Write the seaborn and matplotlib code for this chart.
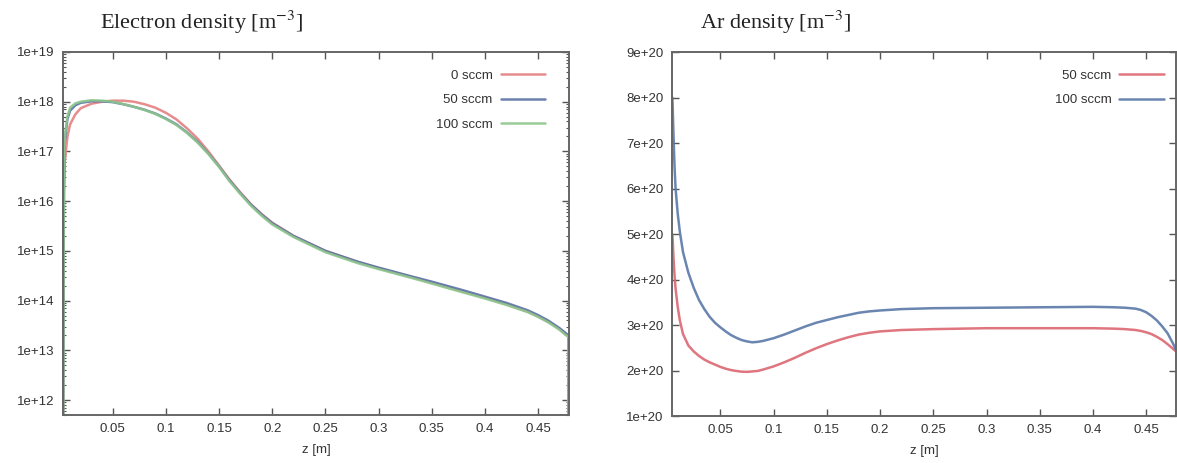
import numpy as np
import pandas as pd
import matplotlib
matplotlib.use('Agg')
import matplotlib.pyplot as plt
import seaborn as sns
from matplotlib.ticker import LogLocator, NullFormatter

# ---- electron density data (left panel) ----
z_e = [0.0035, 0.004, 0.005, 0.0075, 0.01, 0.015, 0.02, 0.03, 0.04, 0.05, 0.06, 0.07,
       0.08, 0.09, 0.1, 0.11, 0.12, 0.13, 0.14, 0.15, 0.16, 0.17, 0.18, 0.19, 0.2,
       0.22, 0.25, 0.28, 0.3, 0.33, 0.35, 0.38, 0.4, 0.42, 0.44, 0.45, 0.46, 0.47,
       0.475, 0.4785, 0.4786]
ne_0 = [5e11, 3.2e15, 6.3e16, 2.0e17, 3.5e17, 5.6e17, 7.4e17, 9.1e17, 1.0e18, 1.05e18, 1.05e18, 1.0e18,
        8.9e17, 7.6e17, 6.0e17, 4.4e17, 2.9e17, 1.8e17, 1.0e17, 5.2e16, 2.7e16, 1.5e16, 8.7e15, 5.5e15, 3.7e15,
        2.0e15, 1.0e15, 6.0e14, 4.5e14, 3.0e14, 2.3e14, 1.5e14, 1.15e14, 8.5e13, 6.0e13, 4.8e13, 3.7e13, 2.7e13,
        2.2e13, 1.9e13, 5e11]
ne_50 = [5e11, 1.6e16, 1.6e17, 4.5e17, 6.6e17, 8.5e17, 9.5e17, 1.02e18, 1.02e18, 9.8e17, 8.9e17, 7.9e17,
         6.9e17, 5.8e17, 4.6e17, 3.5e17, 2.4e17, 1.55e17, 9.1e16, 5.0e16, 2.6e16, 1.45e16, 8.5e15, 5.4e15, 3.6e15,
         2.0e15, 1.0e15, 6.1e14, 4.6e14, 3.1e14, 2.4e14, 1.6e14, 1.2e14, 9.0e13, 6.4e13, 5.1e13, 3.9e13, 2.8e13,
         2.3e13, 2.0e13, 5e11]
ne_100 = [5e11, 2.0e16, 2.0e17, 5.0e17, 7.6e17, 9.3e17, 1.0e18, 1.07e18, 1.05e18, 1.0e18, 9.0e17, 7.9e17,
          6.8e17, 5.7e17, 4.5e17, 3.4e17, 2.35e17, 1.5e17, 8.9e16, 4.9e16, 2.5e16, 1.4e16, 8.1e15, 5.1e15, 3.4e15,
          1.9e15, 9.4e14, 5.7e14, 4.3e14, 2.9e14, 2.2e14, 1.45e14, 1.1e14, 8.2e13, 5.9e13, 4.7e13, 3.6e13, 2.6e13,
          2.1e13, 1.85e13, 5e11]

# ---- Ar density data (right panel), units of 1e20 m^-3 ----
z_ar = [0.005, 0.006, 0.007, 0.008, 0.01, 0.012, 0.015, 0.02, 0.025, 0.03, 0.035, 0.04,
        0.045, 0.05, 0.055, 0.06, 0.065, 0.07, 0.075, 0.08, 0.085, 0.09, 0.1, 0.11,
        0.12, 0.13, 0.14, 0.15, 0.16, 0.17, 0.18, 0.19, 0.2, 0.22, 0.25, 0.3,
        0.35, 0.4, 0.42, 0.43, 0.44, 0.445, 0.45, 0.455, 0.46, 0.465, 0.47, 0.475, 0.478]
ar_50 = [5.0, 4.5, 4.1, 3.8, 3.4, 3.1, 2.8, 2.55, 2.42, 2.32, 2.24, 2.18,
         2.13, 2.08, 2.04, 2.01, 1.99, 1.975, 1.97, 1.98, 1.99, 2.02, 2.09, 2.18,
         2.28, 2.39, 2.49, 2.58, 2.66, 2.73, 2.79, 2.83, 2.86, 2.89, 2.91, 2.93,
         2.93, 2.93, 2.92, 2.91, 2.89, 2.87, 2.84, 2.8, 2.74, 2.67, 2.58, 2.48, 2.42]
ar_100 = [8.0, 7.2, 6.5, 6.0, 5.45, 5.05, 4.6, 4.15, 3.82, 3.55, 3.35, 3.18,
          3.05, 2.95, 2.86, 2.78, 2.72, 2.67, 2.64, 2.62, 2.63, 2.65, 2.71, 2.79,
          2.88, 2.97, 3.05, 3.11, 3.17, 3.22, 3.27, 3.3, 3.32, 3.35, 3.37, 3.38,
          3.39, 3.4, 3.39, 3.38, 3.36, 3.33, 3.28, 3.2, 3.1, 2.97, 2.82, 2.6, 2.45]

e_labels = ['0 sccm', '50 sccm', '100 sccm']
ar_labels = ['50 sccm', '100 sccm']
z_ticks = [0.05, 0.1, 0.15, 0.2, 0.25, 0.3, 0.35, 0.4, 0.45]
z_tick_labels = ['0.05', '0.1', '0.15', '0.2', '0.25', '0.3', '0.35', '0.4', '0.45']
e_ticks = [1e12, 1e13, 1e14, 1e15, 1e16, 1e17, 1e18, 1e19]
e_tick_labels = ['1e+12', '1e+13', '1e+14', '1e+15', '1e+16', '1e+17', '1e+18', '1e+19']
ar_ticks = [1e20, 2e20, 3e20, 4e20, 5e20, 6e20, 7e20, 8e20, 9e20]
ar_tick_labels = ['1e+20', '2e+20', '3e+20', '4e+20', '5e+20', '6e+20', '7e+20', '8e+20', '9e+20']

sns.set_theme(style='white')
plt.rcParams['font.family'] = ['Liberation Sans', 'DejaVu Sans']
plt.rcParams['mathtext.fontset'] = 'stix'

fig = plt.figure(figsize=(11.77, 4.63), dpi=100)
ax1 = fig.add_axes([0.0535, 0.1037, 0.4299, 0.784])
ax2 = fig.add_axes([0.571, 0.1015, 0.4282, 0.786])

# left: electron density
e_colors = ['#e48080', '#5b72a6', '#8cc68c']
for ys, lab, c in zip([ne_0, ne_50, ne_100], e_labels, e_colors):
    sns.lineplot(x=z_e, y=ys, ax=ax1, color=c, lw=1.8, label=lab, sort=False, alpha=0.9)
ax1.set_yscale('log')
ax1.set_xlim(0.0033, 0.479)
ax1.set_ylim(5e11, 1e19)
ax1.set_yticks(e_ticks)
ax1.set_yticklabels(e_tick_labels)
ax1.yaxis.set_minor_locator(LogLocator(base=10, subs=np.arange(2, 10), numticks=20))
ax1.yaxis.set_minor_formatter(NullFormatter())

# right: Ar density
ar_colors = ['#dc6670', '#5a78a8']
for ys, lab, c in zip([ar_50, ar_100], ar_labels, ar_colors):
    sns.lineplot(x=z_ar, y=np.array(ys) * 1e20, ax=ax2, color=c, lw=1.8, label=lab,
                 sort=False, alpha=0.9)
ax2.set_xlim(0.0047, 0.478)
ax2.set_ylim(1e20, 9e20)
ax2.set_yticks(ar_ticks)
ax2.set_yticklabels(ar_tick_labels)

for ax, anchor in [(ax1, (0.977, 0.985)), (ax2, (1.0, 0.985))]:
    ax.set_xticks(z_ticks)
    ax.set_xticklabels(z_tick_labels)
    ax.set_xlabel('z [m]', fontsize=9.5, color='#333333', labelpad=6)
    ax.set_ylabel('')
    ax.tick_params(which='major', direction='in', length=5, width=1, color='#555555',
                   top=True, right=True, bottom=True, left=True,
                   labelsize=9.5, labelcolor='#333333', pad=6)
    ax.tick_params(which='minor', direction='in', length=2.5, width=0.8, color='#555555',
                   top=True, right=True, bottom=True, left=True)
    for sp in ax.spines.values():
        sp.set_color('#666666')
        sp.set_linewidth(1.4)
    ax.legend(loc='upper right', bbox_to_anchor=anchor, frameon=False, markerfirst=False,
              fontsize=9.5, handlelength=3.4, labelspacing=0.95, handletextpad=0.6,
              labelcolor='#333333')

fig.text(0.085, 0.952, 'Electron density [m$^{-3}$]', family='Liberation Serif',
         fontsize=16, ha='left', va='center', color='#222222')
fig.text(0.595, 0.952, 'Ar density [m$^{-3}$]', family='Liberation Serif',
         fontsize=16, ha='left', va='center', color='#222222')

fig.savefig('out.png', dpi=100)
